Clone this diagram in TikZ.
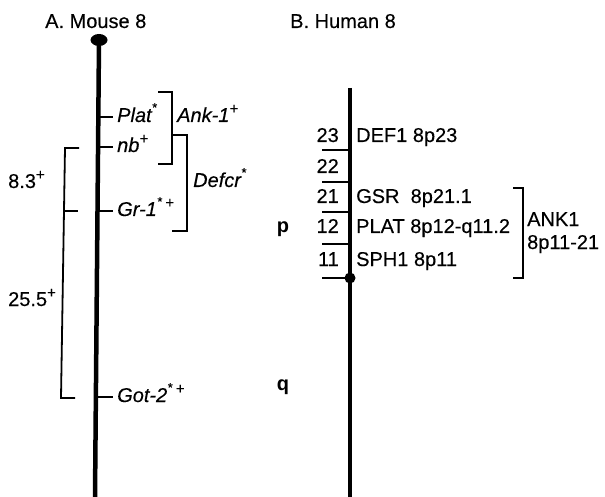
\documentclass[tikz,border=0pt]{standalone}
\usepackage{fontspec}
\setmainfont{Liberation Sans}[UprightFeatures={FakeBold=0.3},ItalicFeatures={FakeBold=0.3}]
\usetikzlibrary{positioning}

% raised marks after gene symbols and distances
\newcommand{\plusmark}{\raisebox{0.42em}{\fontsize{15}{15}\selectfont +}}
\newcommand{\starmark}{\raisebox{0.5em}{\fontsize{13}{13}\selectfont *}}

\tikzset{
  chromosome/.style={line width=4.5pt},
  locus/.style={line width=2pt},
  bandline/.style={line width=2.2pt},
  bracketline/.style={line width=1.8pt},
  lbl/.style={inner sep=0pt, font=\fontsize{20}{24}\selectfont, anchor=base west},
  genelbl/.style={lbl, font=\fontsize{20}{24}\selectfont\itshape},
  bandlbl/.style={lbl, anchor=base east},
  armlbl/.style={lbl, font=\fontsize{20}{24}\selectfont\bfseries, anchor=base},
}

\begin{document}
\begin{tikzpicture}[x=1pt,y=-1pt]
  \useasboundingbox (0,0) rectangle (605,497);

  % Titles
  \node[lbl] (titleA) at (45,28) {A. Mouse 8};
  \node[lbl] (titleB) at (290,28) {B. Human 8};

  % Mouse chromosome 8, centromere on top
  \coordinate (mcen) at (99,40);
  \coordinate (mend) at (95,497);
  \draw[chromosome] (mcen) -- (mend);
  \fill (mcen) ellipse (8.5 and 6);

  % Mouse loci: tick, then italic symbol
  \foreach \y/\nm/\txt in {117/plat/{Plat\starmark},
                           147/nb/{nb\plusmark},
                           211/gr/{Gr-1\starmark\,\plusmark},
                           397/got/{Got-2\starmark\,\plusmark}}{
    \draw[locus] (98,\y) -- (113,\y) coordinate (\nm);
    \node[genelbl] (\nm-lbl) at (117,{\y+5}) {\txt};
  }

  % Syntenic groups
  \draw[bracketline] (158,92) -| (172,164) -- (158,164);
  \node[genelbl] (ank) at (177,122) {Ank-1\plusmark};
  \draw[bracketline] (172,135) -| (187,231) -- (172,231);
  \node[genelbl] (defcr) at (193,187) {Defcr\starmark};

  % Recombination distances
  \draw[bracketline] (79,148) -- (65,148) -- (61,398) -- (75,398);
  \draw[bracketline] (64,211) -- (78,211);
  \node[lbl] (dist1) at (8,188) {8.3\plusmark};
  \node[lbl] (dist2) at (8,306) {25.5\plusmark};

  % Human chromosome 8
  \coordinate (htop) at (350,88);
  \coordinate (hbot) at (350,497);
  \draw[chromosome] (htop) -- (hbot);
  \foreach \y in {150,182,212,244,278}
    \draw[bandline] (322,\y) -- (350,\y);
  \fill (350,278) circle (5.5);

  % Band numbers and genes
  \foreach \b/\y in {23/142,22/173,21/203,12/233,11/266}
    \node[bandlbl] (band\b) at (339,\y) {\b};
  \node[lbl] (def1) at (356,142) {DEF1 8p23};
  \node[lbl] (gsr) at (356,203) {GSR\ \ 8p21.1};
  \node[lbl] (plath) at (356,233) {PLAT 8p12-q11.2};
  \node[lbl] (sph1) at (356,266) {SPH1 8p11};

  \draw[bracketline] (513,188) -| (523,278) -- (513,278);
  \node[lbl] (ank1) at (527,226) {ANK1};
  \node[lbl] (ank1loc) at (527,249) {8p11-21};

  % Arms
  \node[armlbl] (parm) at (283,233) {p};
  \node[armlbl] (qarm) at (283,390) {q};
\end{tikzpicture}
\end{document}
